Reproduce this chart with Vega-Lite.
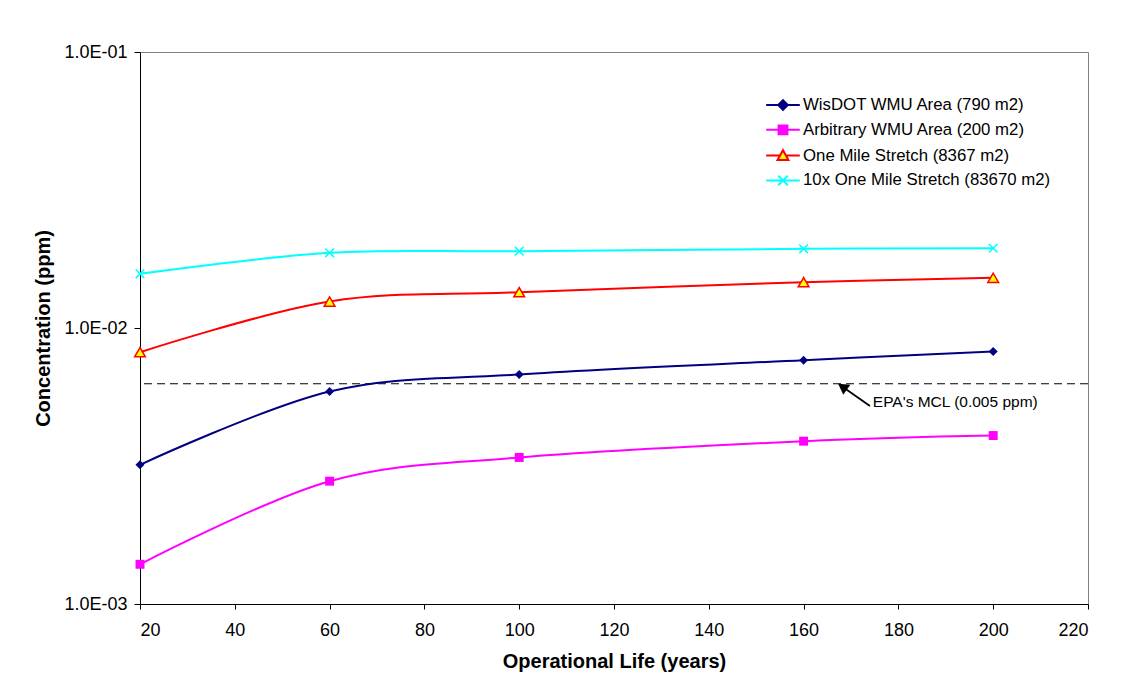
{
  "$schema": "https://vega.github.io/schema/vega-lite/v6.json",
  "autosize": "none",
  "padding": {"left": 140, "top": 52, "right": 53, "bottom": 91},
  "width": 948,
  "height": 552,
  "background": "white",
  "datasets": {
    "series": [
      {"life": 20, "conc": 0.003194, "series": "WisDOT WMU Area (790 m2)"},
      {"life": 60, "conc": 0.005888, "series": "WisDOT WMU Area (790 m2)"},
      {"life": 100, "conc": 0.006785, "series": "WisDOT WMU Area (790 m2)"},
      {"life": 160, "conc": 0.007643, "series": "WisDOT WMU Area (790 m2)"},
      {"life": 200, "conc": 0.008222, "series": "WisDOT WMU Area (790 m2)"},
      {"life": 20, "conc": 0.001393, "series": "Arbitrary WMU Area (200 m2)"},
      {"life": 60, "conc": 0.002786, "series": "Arbitrary WMU Area (200 m2)"},
      {"life": 100, "conc": 0.003396, "series": "Arbitrary WMU Area (200 m2)"},
      {"life": 160, "conc": 0.00389, "series": "Arbitrary WMU Area (200 m2)"},
      {"life": 200, "conc": 0.004077, "series": "Arbitrary WMU Area (200 m2)"},
      {"life": 20, "conc": 0.008172, "series": "One Mile Stretch (8367 m2)"},
      {"life": 60, "conc": 0.01247, "series": "One Mile Stretch (8367 m2)"},
      {"life": 100, "conc": 0.01348, "series": "One Mile Stretch (8367 m2)"},
      {"life": 160, "conc": 0.01465, "series": "One Mile Stretch (8367 m2)"},
      {"life": 200, "conc": 0.0152, "series": "One Mile Stretch (8367 m2)"},
      {"life": 20, "conc": 0.01572, "series": "10x One Mile Stretch (83670 m2)"},
      {"life": 60, "conc": 0.01873, "series": "10x One Mile Stretch (83670 m2)"},
      {"life": 100, "conc": 0.01898, "series": "10x One Mile Stretch (83670 m2)"},
      {"life": 160, "conc": 0.01936, "series": "10x One Mile Stretch (83670 m2)"},
      {"life": 200, "conc": 0.01945, "series": "10x One Mile Stretch (83670 m2)"}
    ],
    "mcl": [{"conc": 0.00628}],
    "arrow": [{"x1": 174.0, "y1": 0.005217, "x2": 168.2, "y2": 0.006126, "label": "EPA's MCL (0.005 ppm)", "tx": 174.6, "ty": 0.0054}]
  },
  "layer": [
    {
      "data": {"name": "mcl"},
      "mark": {"type": "rule", "color": "black", "strokeWidth": 1, "strokeDash": [8, 5]},
      "encoding": {
        "y": {"field": "conc", "type": "quantitative", "scale": {"type": "log", "domain": [0.001, 0.1]}}
      }
    },
    {
      "data": {"name": "series"},
      "transform": [{"filter": "datum.life < 0"}],
      "mark": {"type": "point", "filled": false, "opacity": 1, "strokeWidth": 2},
      "encoding": {
        "x": {"field": "life", "type": "quantitative", "scale": {"domain": [20, 220], "nice": false, "zero": false},
              "axis": {"title": "Operational Life (years)", "values": [20, 40, 60, 80, 100, 120, 140, 160, 180, 200, 220]}},
        "y": {"field": "conc", "type": "quantitative", "scale": {"type": "log", "domain": [0.001, 0.1], "nice": false},
              "axis": {"title": "Concentration (ppm)", "values": [0.001, 0.01, 0.1],
                       "labelExpr": "datum.value >= 0.099 ? '1.0E-01' : (datum.value >= 0.0099 ? '1.0E-02' : '1.0E-03')"}},
        "color": {"field": "series", "type": "nominal",
          "scale": {"domain": ["WisDOT WMU Area (790 m2)", "Arbitrary WMU Area (200 m2)", "One Mile Stretch (8367 m2)", "10x One Mile Stretch (83670 m2)"],
                    "range": ["#000080", "#FF00FF", "#FF0000", "#00FFFF"]},
          "legend": {"title": null, "orient": "none", "legendX": 634, "legendY": 44, "padding": 0, "rowPadding": 6.8,
                     "symbolSize": 256, "symbolStrokeWidth": 2, "symbolOpacity": 1, "labelOffset": 11, "labelFontSize": 16.8,
                     "labelFont": "Liberation Sans", "labelColor": "black", "labelLimit": 0}},
        "shape": {"field": "series", "type": "nominal",
          "legend": {"title": null, "orient": "none", "legendX": 634, "legendY": 44},
          "scale": {"domain": ["WisDOT WMU Area (790 m2)", "Arbitrary WMU Area (200 m2)", "One Mile Stretch (8367 m2)", "10x One Mile Stretch (83670 m2)"],
                    "range": ["M-2.1,0H2.1M0,-0.6L0.6,0L0,0.6L-0.6,0Z", "M-2.1,0H2.1M-0.55,-0.55H0.55V0.55H-0.55Z", "M-2.1,0H-0.38M0.38,0H2.1M0,-0.68L0.68,0.55H-0.68Z", "M-2.1,0H2.1M-0.6,-0.6L0.6,0.6M-0.6,0.6L0.6,-0.6"]}},
        "fill": {"field": "series", "type": "nominal",
          "legend": {"title": null, "orient": "none", "legendX": 634, "legendY": 44},
          "scale": {"domain": ["WisDOT WMU Area (790 m2)", "Arbitrary WMU Area (200 m2)", "One Mile Stretch (8367 m2)", "10x One Mile Stretch (83670 m2)"],
                    "range": ["#000080", "#FF00FF", "#FFFF00", "transparent"]}}
      }
    },
    {
      "data": {"name": "series"},
      "mark": {"type": "line", "interpolate": "cardinal", "strokeWidth": 2},
      "encoding": {
        "x": {"field": "life", "type": "quantitative"},
        "y": {"field": "conc", "type": "quantitative"},
        "color": {"field": "series", "type": "nominal"}
      }
    },
    {
      "data": {"name": "series"},
      "transform": [{"filter": "datum.series === 'WisDOT WMU Area (790 m2)'"}],
      "mark": {"type": "point", "shape": "diamond", "filled": true, "color": "#000080", "opacity": 1, "size": 80},
      "encoding": {
        "x": {"field": "life", "type": "quantitative"},
        "y": {"field": "conc", "type": "quantitative"}
      }
    },
    {
      "data": {"name": "series"},
      "transform": [{"filter": "datum.series === 'Arbitrary WMU Area (200 m2)'"}],
      "mark": {"type": "point", "shape": "square", "filled": true, "color": "#FF00FF", "opacity": 1, "size": 80},
      "encoding": {
        "x": {"field": "life", "type": "quantitative"},
        "y": {"field": "conc", "type": "quantitative"}
      }
    },
    {
      "data": {"name": "series"},
      "transform": [{"filter": "datum.series === 'One Mile Stretch (8367 m2)'"}],
      "mark": {"type": "point", "shape": "triangle-up", "fill": "#FFFF00", "stroke": "#FF0000", "strokeWidth": 1.5, "fillOpacity": 1, "opacity": 1, "size": 115},
      "encoding": {
        "x": {"field": "life", "type": "quantitative"},
        "y": {"field": "conc", "type": "quantitative"}
      }
    },
    {
      "data": {"name": "series"},
      "transform": [{"filter": "datum.series === '10x One Mile Stretch (83670 m2)'"}],
      "mark": {"type": "point", "shape": "M-1,-1L1,1M-1,1L1,-1", "filled": false, "color": "#00FFFF", "strokeWidth": 1.5, "opacity": 1, "size": 75},
      "encoding": {
        "x": {"field": "life", "type": "quantitative"},
        "y": {"field": "conc", "type": "quantitative"}
      }
    },
    {
      "data": {"name": "arrow"},
      "mark": {"type": "rule", "color": "black", "strokeWidth": 1.8},
      "encoding": {
        "x": {"field": "x1", "type": "quantitative"},
        "y": {"field": "y1", "type": "quantitative"},
        "x2": {"field": "x2"},
        "y2": {"field": "y2"}
      }
    },
    {
      "data": {"name": "arrow"},
      "mark": {"type": "point", "shape": "triangle-up", "filled": true, "color": "black", "opacity": 1, "size": 150, "angle": 305},
      "encoding": {
        "x": {"field": "x2", "type": "quantitative"},
        "y": {"field": "y2", "type": "quantitative"}
      }
    },
    {
      "data": {"name": "arrow"},
      "mark": {"type": "text", "align": "left", "baseline": "middle", "font": "Liberation Sans", "fontSize": 15.5, "color": "black"},
      "encoding": {
        "x": {"field": "tx", "type": "quantitative"},
        "y": {"field": "ty", "type": "quantitative"},
        "text": {"field": "label"}
      }
    }
  ],
  "config": {
    "view": {"stroke": "#808080", "strokeWidth": 1},
    "legend": {
      "padding": 0,
      "rowPadding": 6.8,
      "symbolSize": 256,
      "symbolOpacity": 1,
      "symbolStrokeWidth": 2,
      "labelOffset": 11,
      "labelFontSize": 16.8,
      "labelFont": "Liberation Sans",
      "labelColor": "black",
      "labelLimit": 0
    },
    "axis": {
      "grid": false,
      "domainColor": "black",
      "tickColor": "black",
      "labelColor": "black",
      "titleColor": "black",
      "labelFont": "Liberation Sans",
      "titleFont": "Liberation Sans",
      "labelFontSize": 18,
      "titleFontSize": 20,
      "titleFontWeight": "bold"
    },
    "axisX": {"tickSize": 5, "labelPadding": 12, "titlePadding": 12},
    "axisY": {"tickSize": 6, "labelPadding": 7, "titlePadding": 10}
  }
}
